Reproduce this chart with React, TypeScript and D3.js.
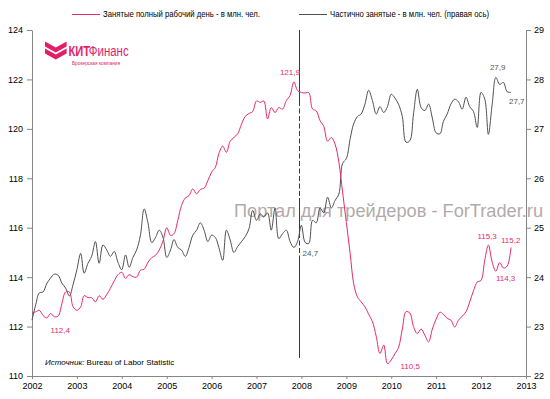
import React, { useEffect, useRef } from 'react'
import * as d3 from 'd3'

// monthly data, Jan 2002 - Sep 2012 (millions)
const fullTime = [
  112.55, 112.6, 112.66, 112.45, 112.35, 112.53, 112.4, 112.42, 112.93, 113.4,
  113.4, 112.8, 112.66, 112.8, 113.25, 113.17, 113.17, 113.0, 113.25, 113.1,
  113.3, 113.55, 113.85, 114.1, 114.2, 113.95, 114.1, 114.02, 114.0, 114.28,
  114.32, 114.6, 114.79, 114.88, 115.1, 115.45, 116.0, 115.69, 115.76, 116.3,
  116.9, 117.2, 117.3, 117.57, 117.37, 117.55, 117.6, 117.9, 118.25, 118.45,
  119.0, 119.3, 119.05, 119.5, 119.65, 119.8, 120.19, 120.5, 120.62, 120.7,
  121.13, 121.07, 121.13, 120.4, 120.86, 120.66, 120.86, 120.8, 121.15, 121.35,
  121.9, 121.55, 121.47, 121.45, 121.47, 120.8, 120.73, 120.33, 120.1, 119.5,
  119.65, 119.38, 118.65, 117.45, 116.2, 114.95, 113.75, 113.2, 113.0, 112.8,
  112.5, 112.2, 111.6, 110.91, 111.25, 110.5, 110.65, 110.91, 111.15, 111.9,
  112.6, 112.55, 112.0, 111.72, 111.9, 111.65, 111.38, 111.9, 112.3, 112.58,
  112.5, 112.33, 112.26, 111.98, 112.25, 112.42, 112.6, 113.0, 113.45, 113.8,
  113.87, 114.7, 115.3, 114.6, 114.24, 114.59, 114.37, 114.45, 115.2,
]

const partTime = [
  23.13, 23.45, 23.68, 23.7, 23.87, 23.98, 24.06, 24.04, 23.88, 23.78,
  23.62, 23.85, 24.15, 24.48, 24.08, 24.28, 24.42, 24.72, 24.28, 24.65,
  24.55, 24.42, 24.52, 24.3, 24.15, 24.45, 24.2, 24.4, 24.55, 24.85,
  25.38, 25.1, 24.7, 24.8, 24.95, 24.81, 24.4, 24.55, 24.76, 24.6,
  24.55, 24.42, 24.6, 24.85, 24.95, 25.1, 24.95, 24.72, 24.85, 24.8,
  24.6, 24.34, 24.95, 24.75, 24.5, 24.62, 24.72, 24.82, 24.98, 25.35,
  25.15, 25.28, 25.22, 25.3, 24.95, 25.4, 24.78, 24.88, 24.95, 24.72,
  24.6, 24.72, 25.05, 24.7, 24.68, 25.15, 25.1, 25.4, 25.3, 25.62,
  25.4, 25.55, 25.68, 26.3, 26.4, 26.8, 27.1, 27.25, 27.3, 27.5,
  27.78, 27.57, 27.3, 27.45, 27.33, 27.45, 27.7, 27.62, 27.5, 27.25,
  26.73, 26.76, 27.3, 27.8, 27.43, 27.37, 27.5, 27.22, 26.92, 26.9,
  27.15, 27.3, 27.5, 27.6, 27.55, 27.4, 27.64, 27.45, 27.35, 27.03,
  27.74, 27.6, 26.89, 27.5, 28.04, 27.9, 27.94, 27.75, 27.74,
]

const years = [2002, 2003, 2004, 2005, 2006, 2007, 2008, 2009, 2010, 2011, 2012, 2013]
const leftTicks = [110, 112, 114, 116, 118, 120, 122, 124]
const rightTicks = [22, 23, 24, 25, 26, 27, 28, 29]

const legendItems = [
  { label: 'Занятые полный рабочий день - в млн. чел.', color: '#e8286e' },
  { label: 'Частично занятые - в млн. чел. (правая ось)', color: '#505050' },
]

// point labels: month index, text, offset from the point
const pinkLabels = [
  { i: 70, text: '121,9', dx: -14, dy: -7 },
  { i: 5, text: '112,4', dx: 0, dy: 20 },
  { i: 95, text: '110,5', dx: 13, dy: 5 },
  { i: 122, text: '115,3', dx: -11, dy: -6 },
  { i: 124, text: '114,3', dx: 0, dy: 10 },
  { i: 128, text: '115,2', dx: -10, dy: -4 },
]
const grayLabels = [
  { i: 71, text: '24,7', dx: 5, dy: 14 },
  { i: 124, text: '27,9', dx: -6, dy: -7 },
  { i: 128, text: '27,7', dx: -2, dy: 12 },
]

const PINK = '#e8286e'
const GRAY = '#505050'
const FONT = '"Liberation Sans", Arial, sans-serif'

export default function App() {
  const svgRef = useRef<SVGSVGElement | null>(null)

  useEffect(() => {
    if (!svgRef.current) return
    const width = 550
    const height = 399
    const left = 32
    const right = 526
    const top = 30
    const bottom = 376

    const svg = d3.select(svgRef.current)
    svg.selectAll('*').remove()
    svg.attr('width', width).attr('height', height)

    const months = fullTime.map((_, i) => new Date(2002, i, 1))

    const x = d3.scaleTime()
      .domain([new Date(2002, 0, 1), new Date(2013, 0, 1)])
      .range([left, right])
    const yL = d3.scaleLinear().domain([110, 124]).range([bottom, top])
    const yR = d3.scaleLinear().domain([22, 29]).range([bottom, top])

    // watermark
    svg.append('text')
      .attr('x', 234)
      .attr('y', 217)
      .attr('textLength', 309)
      .attr('lengthAdjust', 'spacingAndGlyphs')
      .style('font-family', FONT)
      .style('font-size', '18.5px')
      .style('fill', '#a59c9c')
      .style('opacity', 0.85)
      .text('Портал для трейдеров - ForTrader.ru')

    // axes
    const styleAxis = (g: any) => {
      g.select('.domain').attr('stroke', '#868686')
      g.selectAll('.tick line').attr('stroke', '#868686')
      g.selectAll('.tick text')
        .attr('fill', '#000')
        .style('font-family', FONT)
        .style('font-size', '9px')
    }

    svg.append('g')
      .attr('transform', `translate(${left},0)`)
      .call(d3.axisLeft(yL).tickValues(leftTicks).tickSize(5).tickSizeOuter(0).tickPadding(4).tickFormat(d3.format('d')))
      .call(styleAxis)

    svg.append('g')
      .attr('transform', `translate(${right},0)`)
      .call(d3.axisRight(yR).tickValues(rightTicks).tickSize(5).tickSizeOuter(0).tickPadding(3).tickFormat(d3.format('d')))
      .call(styleAxis)

    svg.append('g')
      .attr('transform', `translate(0,${bottom})`)
      .call(d3.axisBottom(x)
        .tickValues(years.map(y => new Date(y, 0, 1)))
        .tickSize(3)
        .tickSizeOuter(0)
        .tickPadding(4)
        .tickFormat((d: any) => String(d.getFullYear())))
      .call(styleAxis)

    // vertical marker at start of 2008
    const vx = Math.round(x(new Date(2007, 11, 10))) + 0.5
    const segs = [
      { y1: 30, y2: 101, dash: null },
      { y1: 101, y2: 198, dash: '5,2.5' },
      { y1: 198, y2: 233, dash: null },
      { y1: 233, y2: 258, dash: '5,2.5' },
      { y1: 258, y2: 358, dash: null },
    ]
    segs.forEach(s => {
      svg.append('line')
        .attr('x1', vx).attr('x2', vx)
        .attr('y1', s.y1).attr('y2', s.y2)
        .attr('stroke', '#3a3a3a')
        .attr('stroke-width', 1)
        .attr('stroke-dasharray', s.dash)
    })

    // series
    const lineL = d3.line<number>()
      .x((_, i) => x(months[i]))
      .y(d => yL(d))
      .curve(d3.curveCatmullRom)
    const lineR = d3.line<number>()
      .x((_, i) => x(months[i]))
      .y(d => yR(d))
      .curve(d3.curveCatmullRom)

    svg.append('path')
      .datum(partTime)
      .attr('d', lineR)
      .attr('fill', 'none')
      .attr('stroke', GRAY)
      .attr('stroke-width', 1)

    svg.append('path')
      .datum(fullTime)
      .attr('d', lineL)
      .attr('fill', 'none')
      .attr('stroke', PINK)
      .attr('stroke-width', 1)

    // point labels
    pinkLabels.forEach(l => {
      svg.append('text')
        .attr('x', x(months[l.i]) + l.dx)
        .attr('y', yL(fullTime[l.i]) + l.dy)
        .style('font-family', FONT)
        .style('font-size', '8px')
        .style('fill', PINK)
        .text(l.text)
    })
    grayLabels.forEach(l => {
      svg.append('text')
        .attr('x', x(months[l.i]) + l.dx)
        .attr('y', yR(partTime[l.i]) + l.dy)
        .style('font-family', FONT)
        .style('font-size', '8px')
        .style('fill', '#555')
        .text(l.text)
    })

    // legend
    const legendX = [72, 299]
    const legendW = [157, 159]
    legendItems.forEach((item, k) => {
      svg.append('line')
        .attr('x1', legendX[k]).attr('x2', legendX[k] + 28)
        .attr('y1', 14.5).attr('y2', 14.5)
        .attr('stroke', item.color)
        .attr('stroke-width', 1)
      svg.append('text')
        .attr('x', legendX[k] + 31)
        .attr('y', 17)
        .attr('textLength', legendW[k])
        .attr('lengthAdjust', 'spacingAndGlyphs')
        .style('font-family', FONT)
        .style('font-size', '8.3px')
        .style('fill', '#000')
        .text(item.label)
    })

    // source
    const src = svg.append('text')
      .attr('x', 45)
      .attr('y', 365)
      .style('font-family', FONT)
      .style('font-size', '8px')
      .style('fill', '#000')
    src.append('tspan').style('font-style', 'italic').text('Источник: ')
    src.append('tspan').text('Bureau of Labor Statistic')

    // logo
    const logo = svg.append('g')
    const chevron = (y0: number) => [
      [45, y0], [55.8, y0 + 6], [66.6, y0], [66.6, y0 + 5], [55.8, y0 + 11], [45, y0 + 5],
    ].map(p => p.join(',')).join(' ')
    logo.append('polygon').attr('points', chevron(41.5)).attr('fill', '#e31d6a')
    logo.append('polygon').attr('points', chevron(48.5)).attr('fill', '#e31d6a')
    logo.append('text')
      .attr('transform', 'translate(68.5,55.5) scale(0.72,1)')
      .style('font-family', FONT)
      .style('font-size', '15.5px')
      .style('font-weight', 'bold')
      .style('fill', '#e31d6a')
      .text('КИТ')
    logo.append('text')
      .attr('transform', 'translate(88.8,55.5) scale(0.74,1)')
      .style('font-family', FONT)
      .style('font-size', '15.5px')
      .style('fill', '#e31d6a')
      .text('Финанс')
    logo.append('text')
      .attr('x', 72)
      .attr('y', 64.5)
      .attr('textLength', 48)
      .attr('lengthAdjust', 'spacingAndGlyphs')
      .style('font-family', FONT)
      .style('font-size', '5px')
      .style('fill', '#e31d6a')
      .text('Брокерская компания')
  }, [])

  return (
    <div style={{ position: 'absolute', left: 0, top: 0, width: 550, height: 399, background: '#fff' }}>
      <svg ref={svgRef} style={{ display: 'block' }}></svg>
    </div>
  )
}
